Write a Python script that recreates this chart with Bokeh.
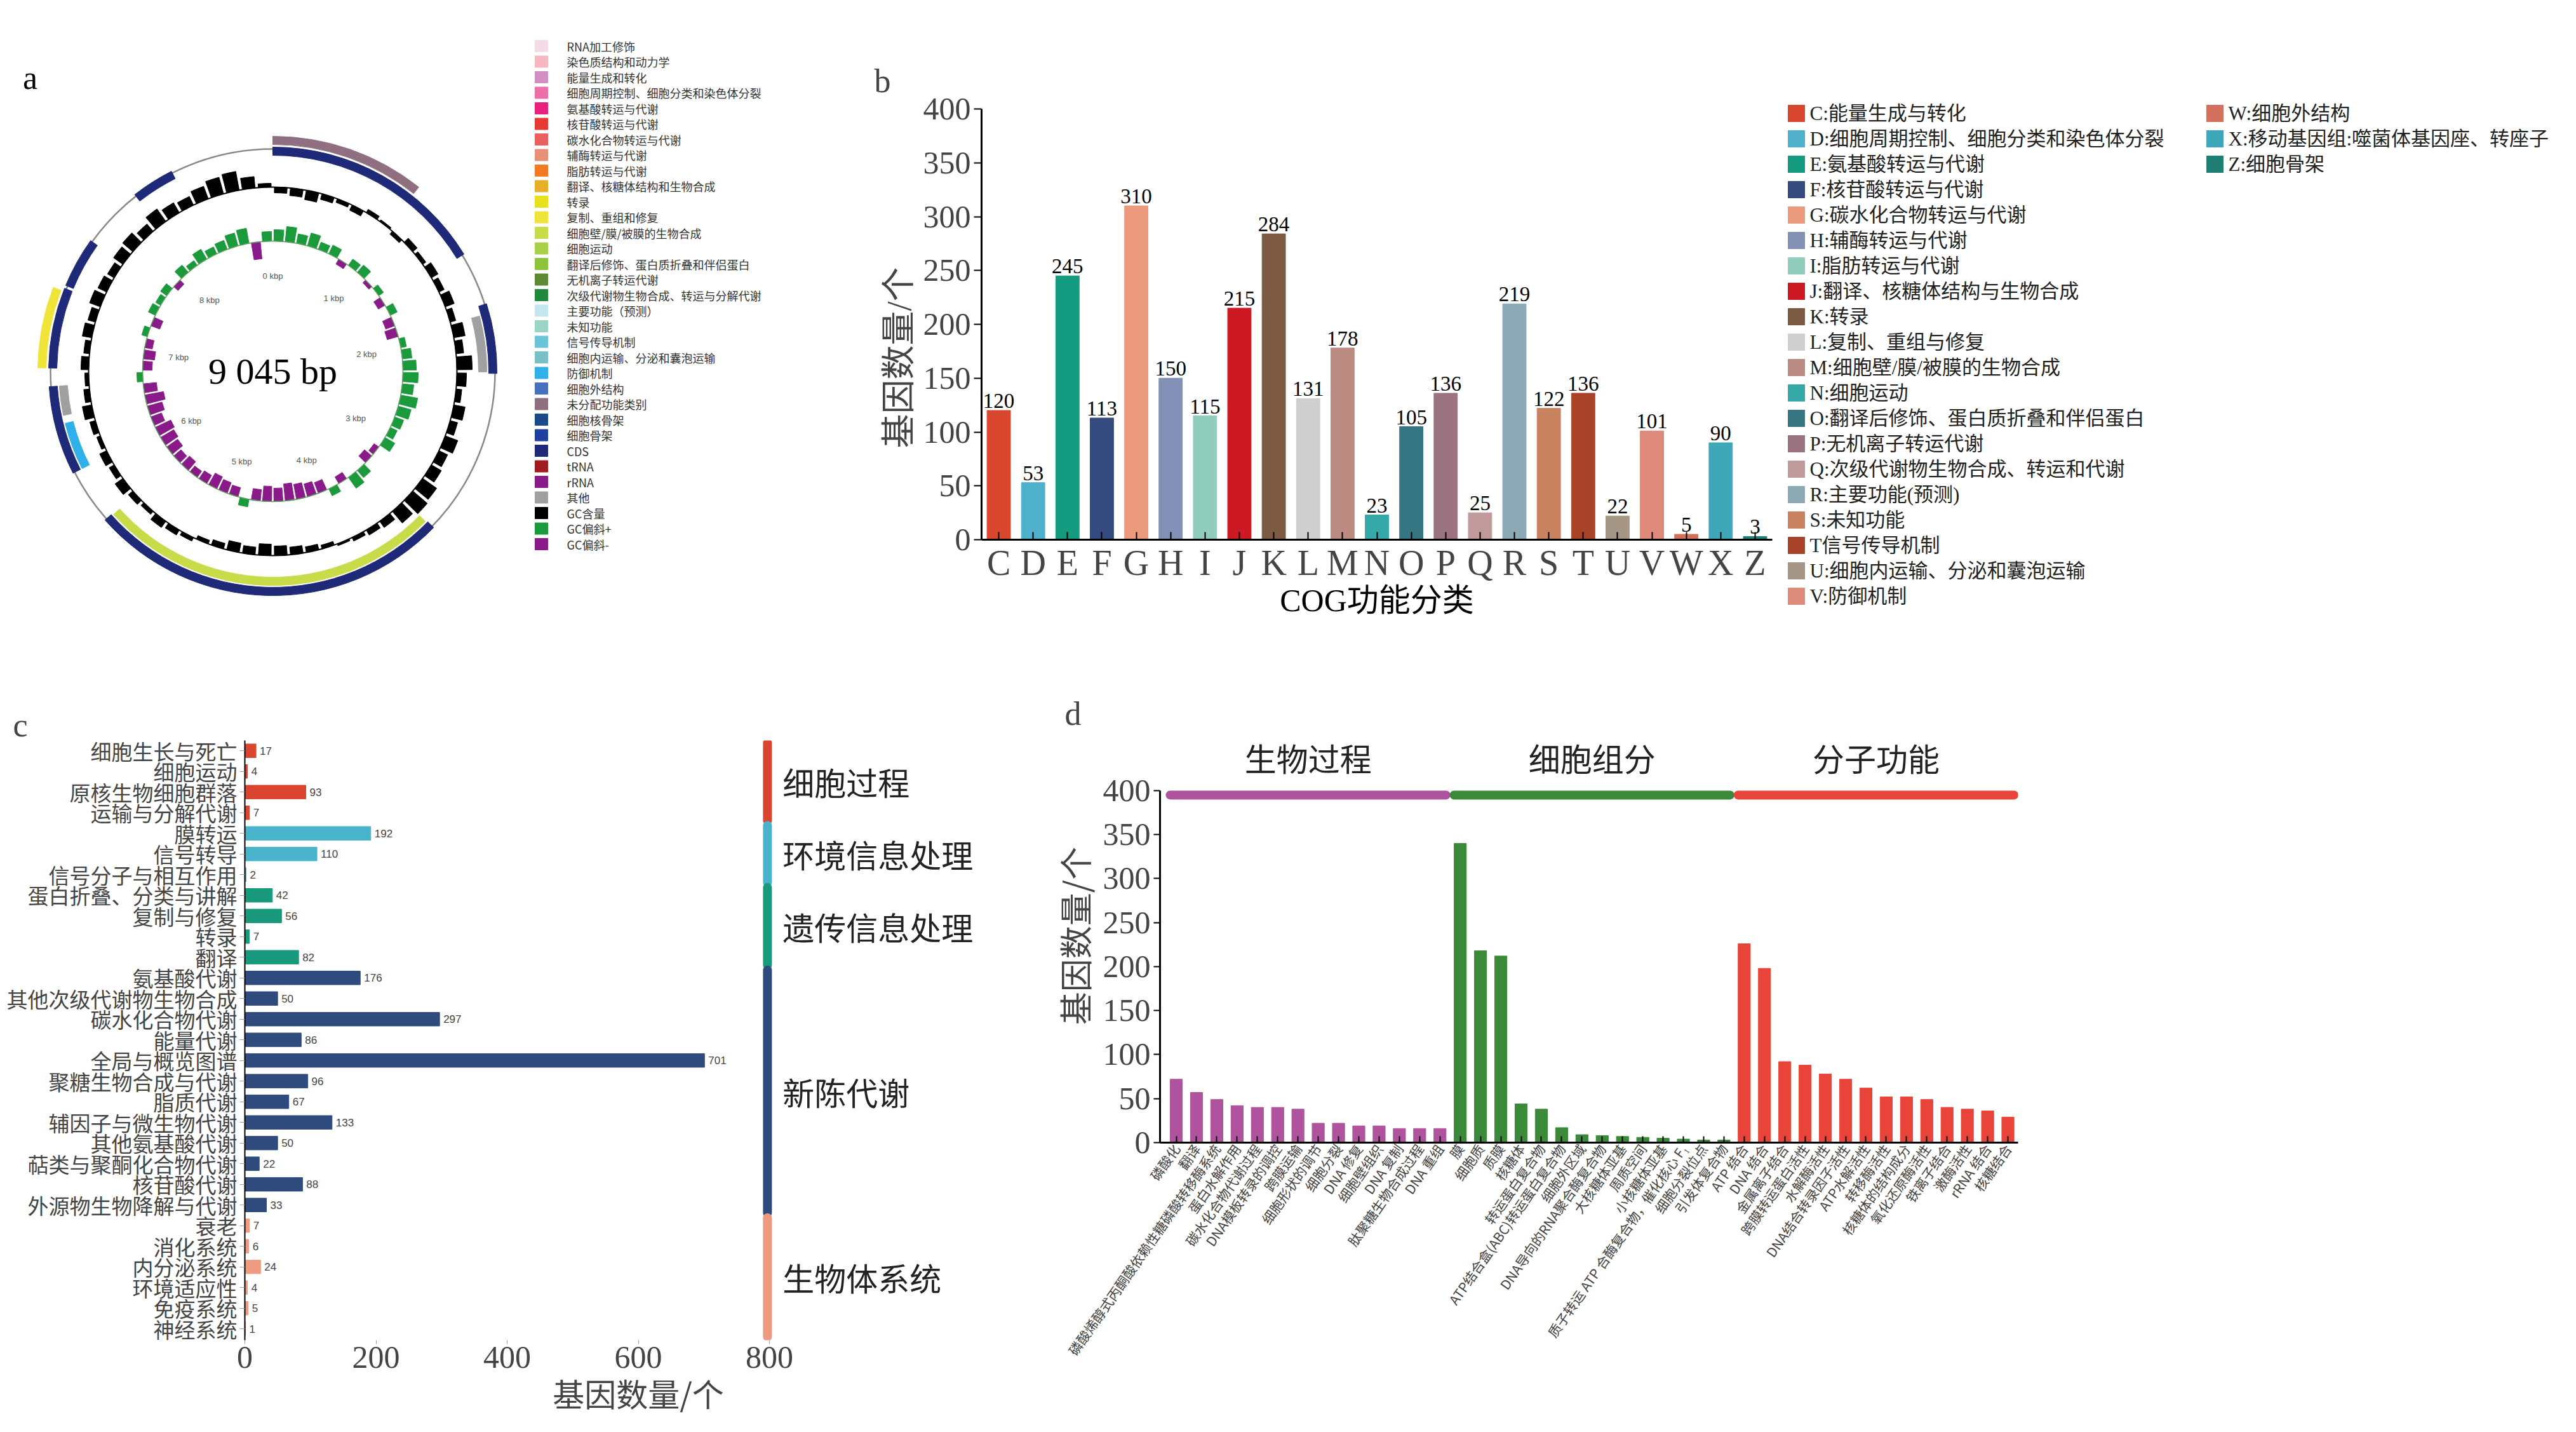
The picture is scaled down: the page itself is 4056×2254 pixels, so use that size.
import math
from bokeh.plotting import figure
from bokeh.layouts import column, row
from bokeh.models import (Range1d, FixedTicker, Title, ColumnDataSource)
from bokeh.core.properties import value
from bokeh.embed import file_html
from bokeh.resources import INLINE

CJK = "Noto Sans CJK SC"
SERIF = "'Liberation Serif', 'Noto Sans CJK SC'"

# ---------------- panel a data ----------------
genome_len = 9045
legend_a_labels = ["RNA加工修饰", "染色质结构和动力学", "能量生成和转化", "细胞周期控制、细胞分类和染色体分裂",
                   "氨基酸转运与代谢", "核苷酸转运与代谢", "碳水化合物转运与代谢", "辅酶转运与代谢", "脂肪转运与代谢",
                   "翻译、核糖体结构和生物合成", "转录", "复制、重组和修复", "细胞壁/膜/被膜的生物合成", "细胞运动",
                   "翻译后修饰、蛋白质折叠和伴侣蛋白", "无机离子转运代谢", "次级代谢物生物合成、转运与分解代谢",
                   "主要功能（预测）", "未知功能", "信号传导机制", "细胞内运输、分泌和囊泡运输", "防御机制",
                   "细胞外结构", "未分配功能类别", "细胞核骨架", "细胞骨架", "CDS", "tRNA", "rRNA", "其他",
                   "GC含量", "GC偏斜+", "GC偏斜-"]
legend_a_colors = ["#f4dbe6", "#f6b7c0", "#d38fc3", "#ee6fa8", "#e8207e", "#e83a35", "#ec5f5f", "#e8907a",
                   "#f37a22", "#e8b02a", "#e8e21e", "#f0e43a", "#c8dc4a", "#a8d048", "#8cc43c", "#5e8a36",
                   "#1e8a3a", "#c4e6ee", "#9ad4c4", "#6cc4d8", "#78c0c8", "#30b0e8", "#4870c0", "#907080",
                   "#1a4a8a", "#2040a0", "#1e2a78", "#a01c20", "#8a1a8a", "#a0a0a0", "#000000", "#1a9a3a", "#8a1a8a"]
feat_start = [0, 0, 1820, 1885, 3370, 3380, 6105, 6485, 6105, 6805, 6805, 7350, 8090]
feat_end = [965, 1470, 2275, 2265, 5740, 5730, 6685, 6685, 6430, 7330, 7310, 7680, 8370]
feat_color = ["#907080", "#1e2a78", "#1e2a78", "#a0a0a0", "#1e2a78", "#c8dc4a", "#1e2a78", "#a0a0a0",
              "#30b0e8", "#1e2a78", "#f0e43a", "#1e2a78", "#1e2a78"]
feat_layer = [1, 0, 0, -1, 0, -1, 0, -1, -1, 0, 1, 0, 0]
gc_content = [-0.3, -0.4, -0.5, -0.3, -0.2, -0.3, 0.2, 0.1, -0.2, 0.3, 0.2, 0.4,
              0.3, 0.5, 0.3, 0.6, 0.4, 0.8, 0.5, 0.3, 0.6, 0.4, 0.7, 0.5,
              0.6, 0.9, 1.0, 0.8, 0.4, 0.3, 0.2, 0.1, -0.2, -0.3, -0.4, -0.5,
              -0.6, -0.4, -0.5, -0.3, -0.2, 0.2, 0.3, 0.4, 0.2, 0.3, 0.5, 0.3,
              0.4, 0.2, 0.3, 0.5, 0.3, 0.2, 0.4, 0.3, 0.5, 0.4, 0.6, 0.5,
              0.4, 0.6, 0.7, 0.5, 0.8, 0.6, 0.5, 0.7, 0.9, 1.0, 0.6, 0.2]
gc_skew = [0.6, 0.8, 0.5, 0.7, 0.4, 0.5, -0.3, 0.4, 0.5, -0.2, 0.3, -0.4,
           0.4, -0.5, -0.6, 0.3, 0.5, 0.7, 0.8, 0.6, 0.9, 0.7, 0.5, 0.4,
           0.6, -0.3, -0.5, 0.5, 0.7, -0.4, 0.4, -0.6, -0.7, -0.8, -0.9, -0.7,
           -0.8, -0.6, 0.4, -0.5, -0.6, -0.7, -0.5, -0.4, -0.6, -0.5, -0.7, -0.8,
           -0.9, -0.6, -0.8, -1.0, -0.7, 0.3, -0.5, -0.6, -0.4, 0.3, -0.5, 0.4,
           0.3, 0.4, -0.3, 0.5, 0.3, 0.6, 0.4, 0.5, 0.7, 0.8, -0.9, 0.5]
kbp_ticks = [0, 1000, 2000, 3000, 4000, 5000, 6000, 7000, 8000]
kbp_labels = ["0 kbp", "1 kbp", "2 kbp", "3 kbp", "4 kbp", "5 kbp", "6 kbp", "7 kbp", "8 kbp"]

# ---------------- panel b data ----------------
cog_letters = ["C", "D", "E", "F", "G", "H", "I", "J", "K", "L", "M", "N", "O", "P", "Q", "R", "S", "T", "U", "V", "W", "X", "Z"]
cog_counts = [120, 53, 245, 113, 310, 150, 115, 215, 284, 131, 178, 23, 105, 136, 25, 219, 122, 136, 22, 101, 5, 90, 3]
cog_names = ["C:能量生成与转化", "D:细胞周期控制、细胞分类和染色体分裂", "E:氨基酸转运与代谢", "F:核苷酸转运与代谢",
             "G:碳水化合物转运与代谢", "H:辅酶转运与代谢", "I:脂肪转运与代谢", "J:翻译、核糖体结构与生物合成", "K:转录",
             "L:复制、重组与修复", "M:细胞壁/膜/被膜的生物合成", "N:细胞运动", "O:翻译后修饰、蛋白质折叠和伴侣蛋白",
             "P:无机离子转运代谢", "Q:次级代谢物生物合成、转运和代谢", "R:主要功能(预测)", "S:未知功能", "T信号传导机制",
             "U:细胞内运输、分泌和囊泡运输", "V:防御机制", "W:细胞外结构", "X:移动基因组:噬菌体基因座、转座子", "Z:细胞骨架"]
cog_colors = ["#d9472f", "#4fb0cb", "#149a7e", "#354b7f", "#ec9a7d", "#8190b4", "#91cdbd", "#cc1922", "#7d5b42",
              "#cfcfcf", "#bb8a80", "#35a8a8", "#367683", "#9b7380", "#c09a9a", "#8caab6", "#c88260", "#a84228",
              "#a59686", "#dd8a7a", "#d37060", "#3fa8b8", "#1f7f72"]
cog_xtitle = "COG功能分类"

# ---------------- panel c data ----------------
kegg_names = ["细胞生长与死亡", "细胞运动", "原核生物细胞群落", "运输与分解代谢", "膜转运", "信号转导", "信号分子与相互作用",
              "蛋白折叠、分类与讲解", "复制与修复", "转录", "翻译", "氨基酸代谢", "其他次级代谢物生物合成", "碳水化合物代谢",
              "能量代谢", "全局与概览图谱", "聚糖生物合成与代谢", "脂质代谢", "辅因子与微生物代谢", "其他氨基酸代谢",
              "萜类与聚酮化合物代谢", "核苷酸代谢", "外源物生物降解与代谢", "衰老", "消化系统", "内分泌系统", "环境适应性",
              "免疫系统", "神经系统"]
kegg_counts = [17, 4, 93, 7, 192, 110, 2, 42, 56, 7, 82, 176, 50, 297, 86, 701, 96, 67, 133, 50, 22, 88, 33, 7, 6, 24, 4, 5, 1]
kegg_groups = ["细胞过程", "环境信息处理", "遗传信息处理", "新陈代谢", "生物体系统"]
kegg_group_sizes = [4, 3, 4, 12, 6]
kegg_group_colors = ["#d9452f", "#4ab3cc", "#1a9a7d", "#2f4a7c", "#ee9a80"]

# ---------------- panel d data ----------------
go_groups = ["生物过程", "细胞组分", "分子功能"]
go_group_colors = ["#b0539e", "#3a8a3a", "#e8443a"]
go_bp = ["磷酸化", "翻译", "磷酸烯醇式丙酮酸依赖性糖磷酸转移酶系统", "蛋白水解作用", "碳水化合物代谢过程",
         "DNA模板转录的调控", "跨膜运输", "细胞形状的调节", "细胞分裂", "DNA 修复", "细胞壁组织", "DNA 复制",
         "肽聚糖生物合成过程", "DNA 重组"]
go_bp_counts = [72, 57, 49, 42, 40, 40, 38, 22, 22, 19, 19, 16, 16, 16]
go_cc = ["膜", "细胞质", "质膜", "核糖体", "转运蛋白复合物", "ATP结合盒(ABC)转运蛋白复合物", "细胞外区域",
         "DNA导向的RNA聚合酶复合物", "大核糖体亚基", "周质空间", "小核糖体亚基",
         "质子转运 ATP 合酶复合物，催化核心 F₁", "细胞分裂位点", "引发体复合物"]
go_cc_counts = [340, 218, 212, 44, 38, 17, 9, 8, 7, 6, 5, 4, 3, 3]
go_mf = ["ATP 结合", "DNA 结合", "金属离子结合", "跨膜转运蛋白活性", "水解酶活性", "DNA结合转录因子活性", "ATP水解活性",
         "转移酶活性", "核糖体的结构成分", "氧化还原酶活性", "铁离子结合", "激酶活性", "rRNA 结合", "核糖结合"]
go_mf_counts = [226, 198, 92, 88, 78, 72, 62, 52, 52, 49, 40, 38, 36, 29]


def clean(p):
    p.outline_line_color = None
    p.background_fill_color = None
    p.border_fill_color = "white"


def letter(p, txt, offset, standoff):
    p.add_layout(Title(text=txt, text_font="Liberation Serif", text_font_size="52px", text_font_style="normal",
                       align="left", offset=offset, standoff=standoff), "above")


# =============== panel a =================
pa = figure(width=1300, height=1000, x_range=Range1d(0, 1300), y_range=Range1d(0, 1000),
            output_backend="svg", toolbar_location=None, min_border=0)
clean(pa)
pa.axis.visible = False
pa.grid.visible = False
cx, cy = 429, 416


def ang(bp):
    return math.radians(90 - bp / genome_len * 360)


pa.circle(x=[cx], y=[cy], radius=350, fill_color=None, line_color="#888888", line_width=2.5)
layer_r = {1: (357, 370), 0: (340, 353), -1: (324, 337)}
src_f = ColumnDataSource(dict(
    s=[ang(e) for e in feat_end], e=[ang(s) for s in feat_start],
    ir=[layer_r[l][0] for l in feat_layer], orr=[layer_r[l][1] for l in feat_layer], c=feat_color))
pa.annular_wedge(x=cx, y=cy, inner_radius="ir", outer_radius="orr", start_angle="s", end_angle="e",
                 color="c", source=src_f)

n = len(gc_content)
seg = genome_len / n
r_gc = 290
gs, ge, gi, go = [], [], [], []
for i, v in enumerate(gc_content):
    gs.append(ang((i + 0.9) * seg)); ge.append(ang((i + 0.1) * seg))
    a, b = r_gc, r_gc + v * 30
    gi.append(min(a, b)); go.append(max(a, b))
pa.annular_wedge(x=cx, y=cy, inner_radius=gi, outer_radius=go, start_angle=gs, end_angle=ge, color="black")
pa.circle(x=[cx], y=[cy], radius=r_gc, fill_color=None, line_color="black", line_width=2)

r_sk = 205
ss, se, si, so, sc = [], [], [], [], []
for i, v in enumerate(gc_skew):
    ss.append(ang((i + 0.9) * seg)); se.append(ang((i + 0.1) * seg))
    a, b = r_sk, r_sk + v * 30
    si.append(min(a, b)); so.append(max(a, b))
    sc.append("#1a9a3a" if v > 0 else "#8a1a8a")
pa.annular_wedge(x=cx, y=cy, inner_radius=si, outer_radius=so, start_angle=ss, end_angle=se, color=sc)
pa.circle(x=[cx], y=[cy], radius=r_sk, fill_color=None, line_color="#5aa05a", line_width=1.5)

kx = [cx + 150 * math.cos(ang(t)) for t in kbp_ticks]
ky = [cy + 150 * math.sin(ang(t)) for t in kbp_ticks]
pa.text(x=kx, y=ky, text=kbp_labels, text_font=value("Liberation Sans"), text_font_size="13px",
        text_color="#555555", text_align="center", text_baseline="middle")
pa.text(x=[cx], y=[cy], text=["9 045 bp"], text_font=value("Liberation Serif"), text_font_size="58px",
        text_align="center", text_baseline="middle")
pa.text(x=[47], y=[878], text=["a"], text_font=value("Liberation Serif"), text_font_size="52px",
        text_align="center", text_baseline="middle")
ly = [928 - 24.5 * i for i in range(len(legend_a_labels))]
pa.rect(x=[852] * len(ly), y=ly, width=20, height=18, color=legend_a_colors)
pa.text(x=[892] * len(ly), y=ly, text=legend_a_labels, text_font=value(CJK), text_font_size="18px",
        text_baseline="middle", text_color="#333333")

# =============== panel b =================
xb = list(range(len(cog_letters)))
ux = 1245 / 23.0           # px per category
xb_max = -0.5 + 2495 / ux
uy = 678 / 400.0           # px per count
yb_top = 400 + (171 - 150) / uy
yb_bot = -(975 - 849) / uy
pb = figure(width=2740, height=1000, x_range=Range1d(-0.5, xb_max), y_range=Range1d(yb_bot, yb_top),
            output_backend="svg", toolbar_location=None,
            min_border_left=245, min_border_right=0, min_border_top=150, min_border_bottom=25)
clean(pb)
pb.grid.visible = False
letter(pb, "b", -169, -10)
src_b = ColumnDataSource(dict(x=xb, y=cog_counts, c=cog_colors, t=[str(v) for v in cog_counts]))
pb.vbar(x="x", top="y", width=0.68, color="c", source=src_b)
pb.text(x="x", y="y", text="t", source=src_b, text_font=value("Liberation Serif"), text_font_size="33px",
        text_align="center", text_baseline="bottom", y_offset=-4)
pb.yaxis.ticker = FixedTicker(ticks=list(range(0, 401, 50)))
pb.yaxis.bounds = (0, 400)
pb.xaxis.ticker = FixedTicker(ticks=xb)
pb.xaxis.major_label_overrides = {i: cog_letters[i] for i in xb}
pb.xaxis.bounds = (-0.5, 22.5)
pb.xaxis.fixed_location = 0
for ax in (pb.xaxis[0], pb.yaxis[0]):
    ax.axis_line_width = 3
    ax.major_tick_line_width = 2
    ax.minor_tick_line_color = None
    ax.major_label_text_font = SERIF
    ax.axis_label_text_font = SERIF
    ax.axis_label_text_font_style = "normal"
pb.yaxis.major_label_text_font_size = "50px"
pb.xaxis.major_label_text_font_size = "56px"
pb.xaxis.major_tick_in = 12
pb.xaxis.major_tick_out = 0
pb.yaxis.major_tick_in = 0
pb.yaxis.major_tick_out = 12
pb.yaxis.axis_label = "基因数量/个"
pb.yaxis.axis_label_text_font_size = "54px"
pb.text(x=[11], y=[-(944 - 849) / uy], text=[cog_xtitle], text_font=value(SERIF), text_font_size="50px",
        text_align="center", text_baseline="middle")
# legend drawn inside the (extended) frame
col_x = [(2815 - 1545) / ux - 0.5, (3474 - 1545) / ux - 0.5]
leg_x, leg_y, leg_tx = [], [], []
for i in range(len(cog_names)):
    col = 0 if i < 20 else 1
    r_ = i if i < 20 else i - 20
    leg_x.append(col_x[col] + 13 / ux)
    leg_y.append((849 - (178 + 40 * r_)) / uy)
    leg_tx.append(col_x[col] + 34 / ux)
pb.rect(x=leg_x, y=leg_y, width=26 / ux, height=26 / uy, color=cog_colors)
pb.text(x=leg_tx, y=leg_y, text=cog_names, text_font=value(SERIF), text_font_size="31px",
        text_baseline="middle", text_color="#222222")

# =============== panel c =================
nc = len(kegg_names)
yc = [nc - 1 - i for i in range(nc)]
bar_colors_c = []
for g, sz in enumerate(kegg_group_sizes):
    bar_colors_c += [kegg_group_colors[g]] * sz
pc = figure(width=1650, height=1230, x_range=Range1d(0, 1200), y_range=Range1d(-0.55, 28.5),
            output_backend="svg", toolbar_location=None,
            min_border_left=385, min_border_right=26, min_border_top=165, min_border_bottom=93)
clean(pc)
pc.grid.visible = False
letter(pc, "c", -365, -8)
src_c = ColumnDataSource(dict(y=yc, r=kegg_counts, c=bar_colors_c, t=[str(v) for v in kegg_counts]))
pc.hbar(y="y", right="r", height=0.66, color="c", source=src_c)
pc.text(x="r", y="y", text="t", source=src_c, x_offset=6, text_font=value("Liberation Sans"),
        text_font_size="17px", text_baseline="middle", text_color="#444444")
pc.yaxis.ticker = FixedTicker(ticks=yc)
pc.yaxis.major_label_overrides = {yc[i]: kegg_names[i] for i in range(nc)}
pc.yaxis.major_label_text_font = CJK
pc.yaxis.major_label_text_font_size = "33px"
pc.yaxis.axis_line_width = 2
pc.yaxis.major_tick_in = 0
pc.yaxis.major_tick_out = 8
pc.yaxis.major_tick_line_color = "#999999"
pc.yaxis.minor_tick_line_color = None
pc.yaxis.major_label_standoff = 4
pc.xaxis.ticker = FixedTicker(ticks=[0, 200, 400, 600, 800])
pc.xaxis.bounds = (0, 800)
pc.xaxis.axis_line_color = None
pc.xaxis.major_tick_in = 0
pc.xaxis.major_tick_out = 6
pc.xaxis.major_tick_line_color = "#999999"
pc.xaxis.minor_tick_line_color = None
pc.xaxis.major_label_text_font = SERIF
pc.xaxis.major_label_text_font_size = "50px"
pc.xaxis.axis_label = "基因数量/个"
pc.xaxis.axis_label_text_font = CJK
pc.xaxis.axis_label_text_font_style = "normal"
pc.xaxis.axis_label_text_font_size = "50px"
pc.xaxis.axis_label_standoff = 0
pc.xaxis.major_label_standoff = 4
top_i = 0
bx0, bx1, gmid = [], [], []
for sz in kegg_group_sizes:
    t = nc - 1 - top_i
    b = nc - top_i - sz
    bx0.append(t + 0.38); bx1.append(b - 0.38); gmid.append((t + b) / 2)
    top_i += sz
pc.segment(x0=[797] * 5, y0=bx0, x1=[797] * 5, y1=bx1, line_color=kegg_group_colors, line_width=14,
           line_cap="round")
pc.text(x=[820] * 5, y=gmid, text=kegg_groups, text_font=value(CJK), text_font_size="50px",
        text_baseline="middle", text_color="#222222")

# =============== panel d =================
go_labels = go_bp + go_cc + go_mf
go_counts = go_bp_counts + go_cc_counts + go_mf_counts
go_cols = [go_group_colors[0]] * len(go_bp) + [go_group_colors[1]] * len(go_cc) + [go_group_colors[2]] * len(go_mf)
xd = list(range(len(go_labels)))
pd_ = figure(width=2390, height=1230, x_range=Range1d(-0.8, 41.5), y_range=Range1d(0, 470),
             output_backend="svg", toolbar_location=None,
             min_border_left=161, min_border_right=863, min_border_top=147, min_border_bottom=432)
clean(pd_)
pd_.grid.visible = False
letter(pd_, "d", -150, -8)
pd_.vbar(x=xd, top=go_counts, width=0.6, color=go_cols)
pd_.xaxis.ticker = FixedTicker(ticks=xd)
pd_.xaxis.major_label_overrides = {i: go_labels[i] for i in xd}
pd_.xaxis.major_label_orientation = 0.96
pd_.xaxis.major_label_text_font = CJK
pd_.xaxis.major_label_text_font_size = "21px"
pd_.xaxis.major_label_text_color = "#444444"
pd_.xaxis.axis_line_width = 3
pd_.xaxis.major_tick_in = 10
pd_.xaxis.major_tick_out = 0
pd_.xaxis.major_tick_line_width = 2
pd_.xaxis.minor_tick_line_color = None
pd_.yaxis.ticker = FixedTicker(ticks=list(range(0, 401, 50)))
pd_.yaxis.bounds = (0, 400)
pd_.yaxis.axis_line_width = 3
pd_.yaxis.major_tick_in = 0
pd_.yaxis.major_tick_out = 10
pd_.yaxis.major_tick_line_width = 2
pd_.yaxis.minor_tick_line_color = None
pd_.yaxis.major_label_text_font = SERIF
pd_.yaxis.major_label_text_font_size = "50px"
pd_.yaxis.axis_label = "基因数量/个"
pd_.yaxis.axis_label_text_font = CJK
pd_.yaxis.axis_label_text_font_style = "normal"
pd_.yaxis.axis_label_text_font_size = "52px"
starts = [0, len(go_bp), len(go_bp) + len(go_cc)]
sizes = [len(go_bp), len(go_cc), len(go_mf)]
hx0 = [s - 0.3 for s in starts]
hx1 = [s + z - 0.7 for s, z in zip(starts, sizes)]
pd_.segment(x0=hx0, y0=[395] * 3, x1=hx1, y1=[395] * 3, line_color=go_group_colors, line_width=14,
            line_cap="round")
pd_.text(x=[(a + b) / 2 for a, b in zip(hx0, hx1)], y=[438] * 3, text=go_groups, text_font=value(CJK),
         text_font_size="50px", text_align="center", text_baseline="middle", text_color="#222222")

layout = column(row(column(pa), column(pb)), row(column(pc), column(pd_)))
open("out.html", "w").write(file_html(layout, INLINE))
